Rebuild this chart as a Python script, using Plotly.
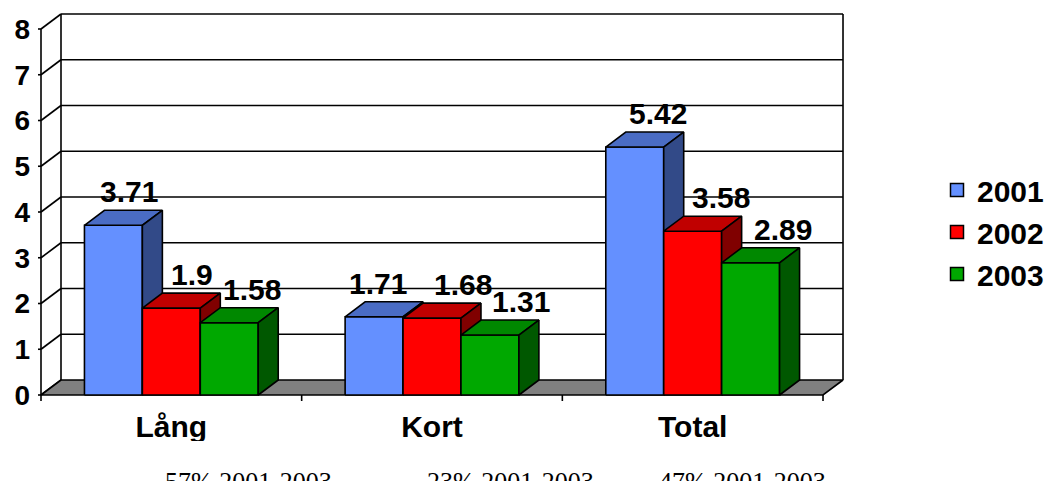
import plotly.graph_objects as go

# ---------------- data ----------------
categories = ["Lång", "Kort", "Total"]
years = ["2001", "2002", "2003"]
v2001 = [3.71, 1.71, 5.42]
v2002 = [1.9, 1.68, 3.58]
v2003 = [1.58, 1.31, 2.89]
notes = ["57% 2001-2003", "23% 2001-2003", "47% 2001-2003"]
y_ticks = [0, 1, 2, 3, 4, 5, 6, 7, 8]

series = [v2001, v2002, v2003]

# ---------------- style / geometry ----------------
W, H = 1048, 481
PX0, PXU = 41.0, 260.67      # pixel of x=0, pixels per category
PY0, PYU = 395.0, 45.75      # pixel of y=0, pixels per unit
DX = 20.0 / PXU              # 3-D depth offset (data units)
DY = 15.0 / PYU
GROUP = 2.0 / 3.0            # fraction of category used by bars
BW = GROUP / 3.0
START = (1 - GROUP) / 2.0

front_col = ["#6490FF", "#FF0000", "#00A800"]
top_col = ["#4A6CC4", "#C00000", "#008800"]
side_col = ["#324A88", "#800000", "#005800"]
LW = 1.6
BOLD = dict(family="Liberation Sans, Arial, sans-serif", color="black", weight="bold")

L_PX, R_PX, T_PX, B_PX = 31, 860, 8, 404
XMIN, XMAX = (L_PX - PX0) / PXU, (R_PX - PX0) / PXU
YMIN, YMAX = (PY0 - B_PX) / PYU, (PY0 - T_PX) / PYU

def paper_x(px):
    return (px - L_PX) / (R_PX - L_PX)

def paper_y(py):
    return (B_PX - py) / (B_PX - T_PX)

fig = go.Figure()

def add_lines(xs, ys):
    fig.add_trace(go.Scatter(x=xs, y=ys, mode="lines", line=dict(color="black", width=LW),
                             hoverinfo="skip", showlegend=False))

def add_poly(xs, ys, color):
    fig.add_trace(go.Scatter(x=xs + [xs[0]], y=ys + [ys[0]], mode="lines", fill="toself",
                             fillcolor=color, line=dict(color="black", width=LW),
                             hoverinfo="skip", showlegend=False))

ncat = len(categories)
top_v = y_ticks[-1]

# back wall gridlines, diagonals, edges
gx, gy = [], []
for v in y_ticks[1:]:
    gx += [DX, ncat + DX, None]
    gy += [v + DY, v + DY, None]
for v in y_ticks:
    gx += [0, DX, None]
    gy += [v, v + DY, None]
gx += [DX, DX, None, ncat + DX, ncat + DX, None, 0, 0, None]
gy += [DY, top_v + DY, None, DY, top_v + DY, None, 0, top_v, None]
# y tick marks
tk = 3.0 / PXU
for v in y_ticks:
    gx += [-tk, 0, None]
    gy += [v, v, None]
# x boundary ticks
for i in range(ncat + 1):
    gx += [i, i, None]
    gy += [0, -6.0 / PYU, None]
add_lines(gx, gy)

# floor
add_poly([0, ncat, ncat + DX, DX], [0, 0, DY, DY], "#808080")

# bars
annotations = []
label_nudge = [[-4, 1, 3], [-16, 11, 11], [3, 8, 12]]
for c in range(ncat):
    for s, vals in enumerate(series):
        h = vals[c]
        x0 = c + START + s * BW
        x1 = x0 + BW
        add_poly([x0, x1, x1, x0], [0, 0, h, h], front_col[s])
        add_poly([x0, x1, x1 + DX, x0 + DX], [h, h, h + DY, h + DY], top_col[s])
        add_poly([x1, x1 + DX, x1 + DX, x1], [0, DY, h + DY, h], side_col[s])
        annotations.append(dict(x=(x0 + x1) / 2 + DX, y=h + DY, xref="x", yref="y",
                                text=f"{h:g}", showarrow=False, yanchor="bottom",
                                xshift=label_nudge[c][s], yshift=0,
                                font=dict(size=30, **BOLD)))

# legend entries
for s, yr in enumerate(years):
    fig.add_trace(go.Scatter(x=[None], y=[None], mode="markers", name=yr,
                             marker=dict(symbol="square", size=13, color=front_col[s],
                                         line=dict(color="black", width=1.5))))

# notes below chart
note_x = [163, 425, 657]
for t, nx in zip(notes, note_x):
    annotations.append(dict(x=paper_x(nx), y=paper_y(465), xref="paper", yref="paper", text=t,
                            showarrow=False, xanchor="left", yanchor="top",
                            font=dict(size=26, family="Liberation Serif, Times New Roman, serif",
                                      color="black")))

fig.update_layout(
    width=W, height=H,
    margin=dict(l=L_PX, r=W - R_PX, t=T_PX, b=H - B_PX, pad=0),
    paper_bgcolor="white", plot_bgcolor="white",
    showlegend=True,
    legend=dict(xref="container", yref="container", x=937 / W, y=1 - 232 / H,
                xanchor="left", yanchor="middle", font=dict(size=30, **BOLD),
                bgcolor="rgba(0,0,0,0)", itemwidth=30),
    xaxis=dict(range=[XMIN, XMAX], tickmode="array",
               tickvals=[i + 0.5 for i in range(ncat)], ticktext=categories,
               ticks="", showgrid=False, zeroline=False, showline=False,
               tickfont=dict(size=30, **BOLD), fixedrange=True, ticklabelstandoff=2),
    yaxis=dict(range=[YMIN, YMAX], tickmode="array", tickvals=y_ticks,
               ticktext=[str(v) for v in y_ticks], ticks="", showgrid=False,
               zeroline=False, showline=False, tickfont=dict(size=28, **BOLD),
               fixedrange=True),
    annotations=annotations,
    shapes=[dict(type="rect", xref="paper", yref="paper", x0=-0.1, x1=1.3,
                 y0=paper_y(462), y1=paper_y(441), fillcolor="white",
                 line=dict(width=0), layer="above")],
)

fig.write_html("out.html", config={"displayModeBar": False},
               post_script="document.body.style.margin='0';document.body.style.overflow='hidden';")
